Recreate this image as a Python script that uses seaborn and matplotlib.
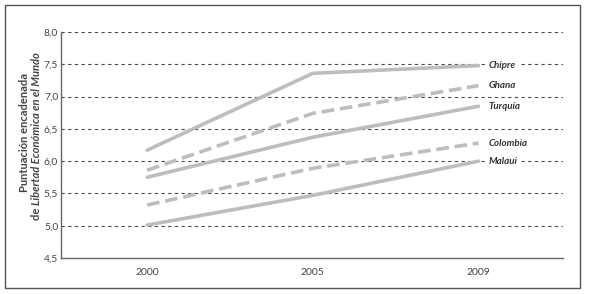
import matplotlib
matplotlib.use("Agg")
import matplotlib.pyplot as plt
import numpy as np
import pandas as pd
import seaborn as sns
from matplotlib.patches import Rectangle

years = ["2000", "2005", "2009"]
countries = ["Chipre", "Ghana", "Turquía", "Colombia", "Malaui"]
chipre = [6.17, 7.36, 7.48]
ghana = [5.86, 6.74, 7.17]
turquia = [5.75, 6.37, 6.85]
colombia = [5.32, 5.89, 6.28]
malaui = [5.01, 5.47, 6.00]
series = [chipre, ghana, turquia, colombia, malaui]
dashed = ["Ghana", "Colombia"]
yticks = [4.5, 5.0, 5.5, 6.0, 6.5, 7.0, 7.5, 8.0]

rows = []
for name, vals in zip(countries, series):
    for i, v in enumerate(vals):
        rows.append({"pais": name, "pos": i, "valor": v})
df = pd.DataFrame(rows)

sns.set_style("white")
plt.rcParams["font.family"] = ["Lato", "DejaVu Sans"]

fig = plt.figure(figsize=(5.89, 2.94), dpi=100)
ax = fig.add_axes([61 / 589, 1 - 258 / 294, (563 - 61) / 589, (258 - 32) / 294])

grey = "#bdbdbd"
ink = "#444444"

for y in yticks[1:]:
    ax.axhline(y, color="#4a4a4a", lw=0.8, ls=(0, (3, 3)), zorder=1)

sns.lineplot(data=df, x="pos", y="valor", hue="pais", style="pais",
             palette={c: grey for c in countries},
             dashes={c: ((3.5, 1.6) if c in dashed else "") for c in countries},
             linewidth=2.6, legend=False, ax=ax, zorder=3)

for name, vals in zip(countries, series):
    ax.annotate(name, xy=(len(years) - 1, vals[-1]), xytext=(7, 0),
                textcoords="offset points", va="center", ha="left",
                fontsize=7, fontstyle="italic", fontweight="bold", color="#333333",
                bbox=dict(boxstyle="square,pad=0.25", fc="white", ec="none"), zorder=4)

ax.set_xlim(-0.52, 2.51)
ax.set_ylim(4.5, 8.0)
ax.set_xticks(range(len(years)))
ax.set_xticklabels(years)
ax.set_yticks(yticks)
ax.set_yticklabels([f"{t:.1f}".replace(".", ",") for t in yticks])
ax.tick_params(axis="both", length=0, labelsize=7.5, colors=ink, pad=2)
ax.tick_params(axis="x", pad=7)
ax.set_xlabel("")
ax.set_ylabel("")
for s in ["top", "right"]:
    ax.spines[s].set_visible(False)
for s in ["left", "bottom"]:
    ax.spines[s].set_color("#666666")
    ax.spines[s].set_linewidth(1.0)

# two-line y label, second line partly italic
fig.text(25 / 589, 1 - 132 / 294, "Puntuación encadenada", rotation=90,
         ha="center", va="center", fontsize=8, fontweight="bold", color=ink)
fig.canvas.draw()
r = fig.canvas.get_renderer()
t1 = fig.text(0, 0, "de ", rotation=90, fontsize=8, fontweight="bold", color=ink)
t2 = fig.text(0, 0, "Libertad Económica en el Mundo", rotation=90, fontsize=8,
              fontweight="bold", fontstyle="italic", color=ink)
h1 = t1.get_window_extent(r).height
h2 = t2.get_window_extent(r).height
total = h1 + h2
H = 294 * fig.dpi / 100
cy = (294 - 136) * fig.dpi / 100
x2 = 37 / 589
y0 = (cy - total / 2) / H
t1.set_position((x2, y0))
t1.set_ha("center")
t1.set_va("bottom")
t2.set_position((x2, y0 + h1 / H))
t2.set_ha("center")
t2.set_va("bottom")

fig.patches.append(Rectangle((5 / 589, 1 - 288 / 294), 575 / 589, 283 / 294,
                             transform=fig.transFigure, fill=False,
                             ec="#555555", lw=1.0))

fig.savefig("out.png", dpi=100)
